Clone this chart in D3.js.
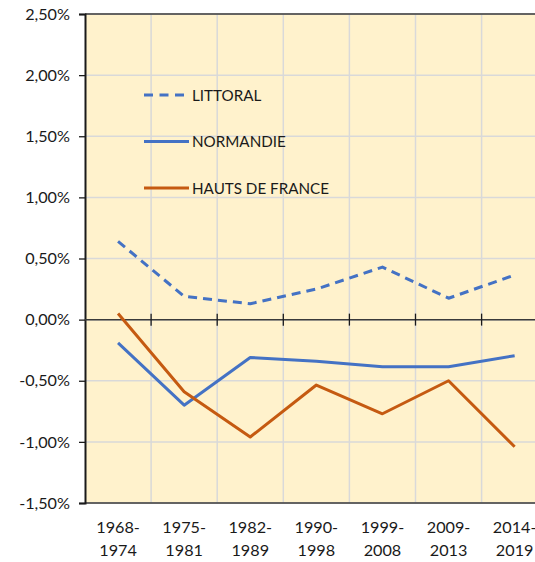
<!DOCTYPE html>
<html>
<head>
<meta charset="utf-8">
<script src="https://cdn.jsdelivr.net/npm/d3@7"></script>
<style>
  html, body { margin: 0; padding: 0; background: #ffffff; }
  svg { display: block; }
  text { font-family: Lato, "Open Sans", sans-serif; fill: #1a1a1a; }
</style>
</head>
<body>
<svg id="chart" width="535" height="562"></svg>
<script>
// Périodes intercensitaires
const periods = [
  ["1968-", "1974"], ["1975-", "1981"], ["1982-", "1989"], ["1990-", "1998"],
  ["1999-", "2008"], ["2009-", "2013"], ["2014-", "2019"]
];
// Taux d'évolution annuel moyen (%)
const littoral  = [0.64, 0.19, 0.13, 0.25, 0.43, 0.175, 0.365];
const normandie = [-0.19, -0.70, -0.31, -0.34, -0.385, -0.385, -0.295];
const hautsDeFrance = [0.05, -0.59, -0.96, -0.535, -0.77, -0.50, -1.04];
const yTicks = [-1.5, -1.0, -0.5, 0, 0.5, 1.0, 1.5, 2.0, 2.5];

const series = [
  { name: "LITTORAL", values: littoral, color: "#4472C4", dash: "9,6" },
  { name: "NORMANDIE", values: normandie, color: "#4472C4", dash: null },
  { name: "HAUTS DE FRANCE", values: hautsDeFrance, color: "#C55A11", dash: null }
];

const svg = d3.select("#chart");
const plotLeft = 85, plotTop = 14, plotBottom = 503, bandW = 66.1;
const plotRight = plotLeft + bandW * periods.length;

const x = d3.scaleBand().domain(d3.range(periods.length)).range([plotLeft, plotRight]).padding(0);
const y = d3.scaleLinear().domain([-1.5, 2.5]).range([plotBottom, plotTop]);
const fmt = v => d3.format(".2f")(v).replace(".", ",").replace("\u2212", "-") + "%";

// Plot background
svg.append("rect").attr("x", plotLeft).attr("y", plotTop)
  .attr("width", plotRight - plotLeft).attr("height", plotBottom - plotTop).attr("fill", "#FFF2CC");

// Gridlines
svg.append("g").selectAll("line").data(yTicks).join("line")
  .attr("x1", plotLeft).attr("x2", plotRight)
  .attr("y1", d => y(d)).attr("y2", d => y(d))
  .attr("stroke", "#D9D9D9").attr("stroke-width", 1.5);
svg.append("g").selectAll("line").data(d3.range(1, periods.length)).join("line")
  .attr("x1", d => x(d)).attr("x2", d => x(d))
  .attr("y1", plotTop).attr("y2", plotBottom)
  .attr("stroke", "#D9D9D9").attr("stroke-width", 1.5);

// Top and bottom borders
[plotTop, plotBottom].forEach(yy => {
  svg.append("line").attr("x1", plotLeft).attr("x2", plotRight)
    .attr("y1", yy).attr("y2", yy).attr("stroke", "#3a3a3a").attr("stroke-width", 1.5);
});

// Y axis
const yAxis = svg.append("g").attr("transform", `translate(${plotLeft},0)`)
  .call(d3.axisLeft(y).tickValues(yTicks).tickFormat(fmt).tickSize(6).tickPadding(9));
yAxis.select(".domain").attr("stroke", "#1a1a1a").attr("stroke-width", 2);
yAxis.selectAll(".tick line").attr("stroke", "#1a1a1a").attr("stroke-width", 1.3);
yAxis.selectAll(".tick text").attr("font-size", 16.2)
  .style("font-family", "Lato, 'Open Sans', sans-serif").attr("fill", "#1a1a1a");

// Zero line with category tick marks
const zeroY = y(0);
svg.append("line").attr("x1", plotLeft).attr("x2", plotRight)
  .attr("y1", zeroY).attr("y2", zeroY).attr("stroke", "#3a3a3a").attr("stroke-width", 1.5);
svg.append("g").selectAll("line").data(d3.range(1, periods.length)).join("line")
  .attr("x1", d => x(d)).attr("x2", d => x(d))
  .attr("y1", zeroY - 6).attr("y2", zeroY + 6)
  .attr("stroke", "#1a1a1a").attr("stroke-width", 1.3);

// Category labels
const lab = svg.append("g").selectAll("text").data(periods).join("text")
  .attr("text-anchor", "middle").attr("font-size", 16.2)
  .attr("transform", (d, i) => `translate(${x(i) + x.bandwidth() / 2},0)`);
lab.append("tspan").attr("x", 0).attr("y", 533).text(d => d[0]);
lab.append("tspan").attr("x", 0).attr("y", 556).text(d => d[1]);

// Series lines
const line = d3.line().x((d, i) => x(i) + x.bandwidth() / 2).y(d => y(d));
series.forEach(s => {
  svg.append("path").datum(s.values).attr("d", line)
    .attr("fill", "none").attr("stroke", s.color).attr("stroke-width", 3)
    .attr("stroke-linejoin", "round")
    .attr("stroke-dasharray", s.dash);
});

// Legend
const legendY = [95, 141.5, 188];
const lg = svg.append("g").selectAll("g").data(series).join("g")
  .attr("transform", (d, i) => `translate(144,${legendY[i]})`);
lg.append("line").attr("x1", 0).attr("x2", d => d.dash ? 40 : 45)
  .attr("y1", 0).attr("y2", 0)
  .attr("stroke", d => d.color).attr("stroke-width", 3.2)
  .attr("stroke-dasharray", d => d.dash ? "9,6.5" : null);
lg.append("text").attr("x", 48).attr("y", 5.5).attr("font-size", 15.2).text(d => d.name);
</script>
</body>
</html>
